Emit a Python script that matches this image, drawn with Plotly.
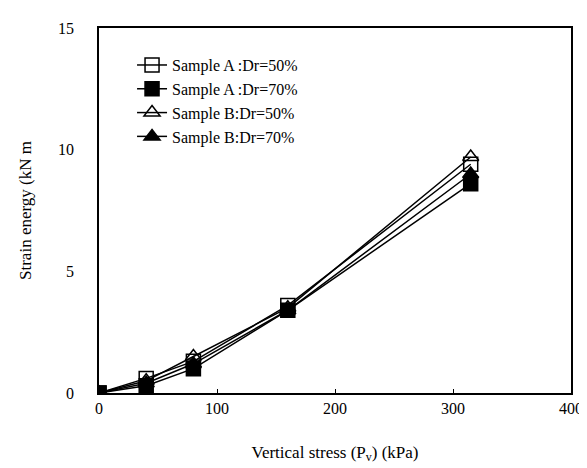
import plotly.graph_objects as go

stress = [0, 40, 80, 160, 315]
a50 = [0, 0.6, 1.3, 3.6, 9.4]
a70 = [0, 0.3, 1.0, 3.4, 8.6]
b50 = [0, 0.5, 1.5, 3.5, 9.7]
b70 = [0, 0.4, 1.2, 3.4, 9.0]
names = ["Sample A :Dr=50%", "Sample A :Dr=70%", "Sample B:Dr=50%", "Sample B:Dr=70%"]
symbols = ["square-open", "square", "triangle-up-open", "triangle-up"]
series = [a50, a70, b50, b70]

fig = go.Figure()
for nm, ys, sym in zip(names, series, symbols):
    fig.add_trace(go.Scatter(
        x=stress, y=ys, name=nm, mode="lines+markers",
        line=dict(color="black", width=1.5),
        marker=dict(symbol=sym, size=14, color="black", line=dict(color="black", width=1.5)),
    ))

font = "Liberation Serif, Times New Roman, serif"
fig.update_layout(
    width=587, height=468,
    margin=dict(l=91, r=24, t=15, b=83),
    paper_bgcolor="white", plot_bgcolor="white",
    font=dict(family=font, size=16, color="black"),
    showlegend=True,
    legend=dict(x=0.07, y=0.945, xanchor="left", yanchor="top",
                bgcolor="rgba(0,0,0,0)", font=dict(size=16, family=font),
                tracegroupgap=0),
    xaxis=dict(range=[0, 400], tickvals=[0, 100, 200, 300, 400],
               showline=True, linecolor="black", linewidth=1.5, mirror=True,
               showgrid=False, zeroline=False, ticks="inside", ticklen=4,
               tickcolor="black", tickfont=dict(size=16),
               title=dict(text="Vertical stress (P<sub>v</sub>) (kPa)", standoff=30,
                          font=dict(size=17))),
    yaxis=dict(range=[0, 15], tickvals=[0, 5, 10, 15],
               showline=True, linecolor="black", linewidth=1.5, mirror=True,
               showgrid=False, zeroline=False, ticks="", ticklabelstandoff=20,
               tickfont=dict(size=16),
               title=dict(text="Strain energy (kN m", standoff=22,
                          font=dict(size=17))),
)
fig.write_html("out.html")
